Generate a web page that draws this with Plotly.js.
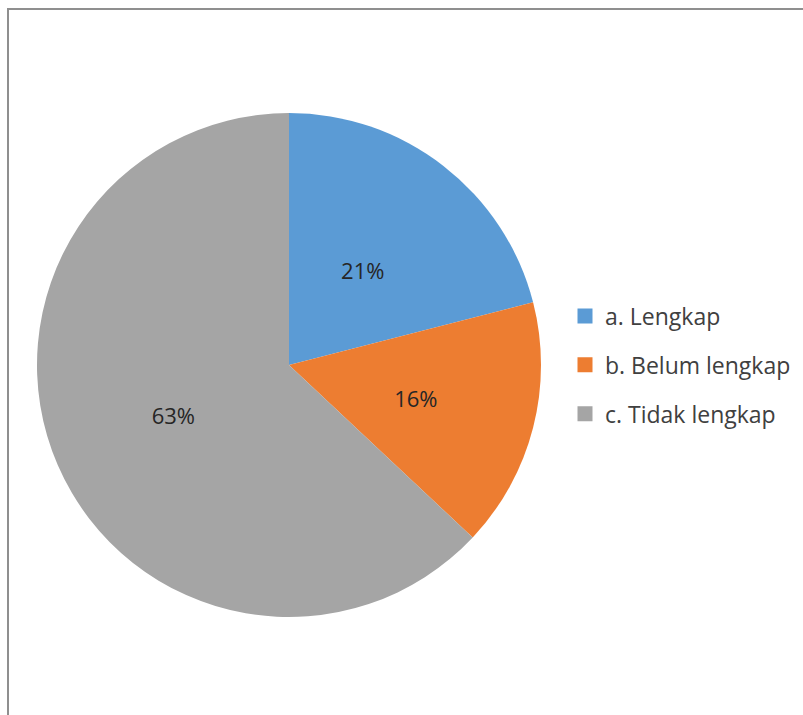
<!DOCTYPE html>
<html>
<head>
<meta charset="utf-8">
<script src="https://cdn.plot.ly/plotly-3.0.1.min.js"></script>
<style>
  html, body { margin: 0; padding: 0; background: #ffffff; }
  #wrap { position: relative; width: 803px; height: 715px; overflow: hidden; }
  #frame { position: absolute; left: 7px; top: 8px; width: 820px; height: 740px;
           border-top: 2px solid #8f8f8f; border-left: 2px solid #8f8f8f; box-sizing: border-box; pointer-events: none; }
  #chart { position: absolute; left: 0; top: 0; width: 803px; height: 715px; }
</style>
</head>
<body>
<div id="wrap">
  <div id="chart"></div>
  <div id="frame"></div>
</div>
<script>
const categories = ["a. Lengkap", "b. Belum lengkap", "c. Tidak lengkap"];
const values = [21, 16, 63];
const colors = ["#5B9BD5", "#ED7D31", "#A5A5A5"];

const W = 803, H = 715;
const cx = 289, cy = 365, R = 252, r = 194;
const FONT = "Open Sans, sans-serif";
const pct = "%{percent:.0%}";

const outer = {
  type: "pie",
  labels: categories,
  values: values,
  sort: false,
  direction: "clockwise",
  rotation: 0,
  marker: { colors: colors, line: { width: 0 } },
  texttemplate: ["", "", pct],
  textposition: "inside",
  insidetextorientation: "horizontal",
  textfont: { family: FONT, size: 22, color: "#262626" },
  hoverinfo: "none",
  showlegend: false,
  domain: { x: [(cx - R) / W, (cx + R) / W], y: [1 - (cy + R) / H, 1 - (cy - R) / H] }
};

const inner = {
  type: "pie",
  labels: categories,
  values: values,
  sort: false,
  direction: "clockwise",
  rotation: 0,
  marker: { colors: ["rgba(0,0,0,0)", "rgba(0,0,0,0)", "rgba(0,0,0,0)"], line: { width: 0 } },
  texttemplate: [pct, pct, ""],
  textposition: "inside",
  insidetextorientation: "horizontal",
  textfont: { family: FONT, size: 22, color: "#262626" },
  hoverinfo: "none",
  showlegend: false,
  domain: { x: [(cx - r) / W, (cx + r) / W], y: [1 - (cy + r) / H, 1 - (cy - r) / H] }
};

const legendEntries = categories.map((name, i) => ({
  type: "scatter",
  mode: "markers",
  x: [null], y: [null],
  name: name,
  legendgroup: "g" + i,
  marker: { symbol: "square", size: 15, color: colors[i] },
  hoverinfo: "none",
  showlegend: true
}));

const layout = {
  width: W, height: H,
  margin: { l: 0, r: 0, t: 0, b: 0 },
  paper_bgcolor: "#ffffff",
  plot_bgcolor: "rgba(0,0,0,0)",
  xaxis: { visible: false },
  yaxis: { visible: false },
  showlegend: true,
  legend: {
    x: 565 / W, y: 1 - 365 / H, xanchor: "left", yanchor: "middle",
    tracegroupgap: 16,
    itemsizing: "trace",
    font: { family: FONT, size: 23, color: "#404040" },
    bgcolor: "rgba(0,0,0,0)"
  }
};

Plotly.newPlot("chart", [outer, inner].concat(legendEntries), layout, { displayModeBar: false, staticPlot: true });
</script>
</body>
</html>
